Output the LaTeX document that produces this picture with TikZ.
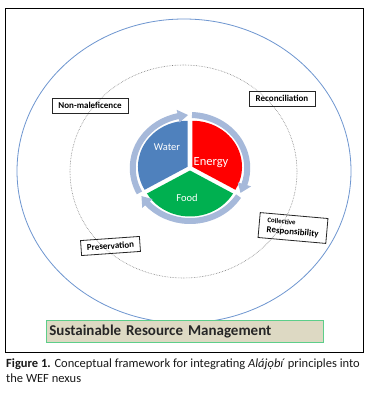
\documentclass[tikz,border=0pt]{standalone}
\usepackage{fontspec}
\setmainfont{Carlito}
\newfontfamily\capfont{Carlito}
\definecolor{waterc}{HTML}{4F81BD}
\definecolor{energyc}{HTML}{FF0000}
\definecolor{foodc}{HTML}{00B050}
\definecolor{ringc}{HTML}{A6B9DA}
\definecolor{outerc}{HTML}{6E96D0}
\definecolor{dotc}{HTML}{7F7F7F}
\definecolor{srmfill}{HTML}{DDD9C3}
\definecolor{srmborder}{HTML}{5DCE8A}
\begin{document}
\begin{tikzpicture}[x=1pt,y=-1pt,
  lbl/.style={draw=black!85, line width=0.8pt, font=\bfseries\fontsize{9}{10}\selectfont, inner sep=2pt, align=center},
  seglbl/.style={text=white, font=\fontsize{10.5}{12}\selectfont, inner sep=0pt},
  captext/.style={anchor=base west, inner sep=0pt, text=black!90, font=\capfont\fontsize{12.5}{14}\selectfont}]
\useasboundingbox (0,0) rectangle (372,396);
\fill[white] (0,0) rectangle (372,396);
% frame
\node[draw=black, line width=1pt, minimum width=358pt, minimum height=344pt, anchor=north west, inner sep=0pt] (frame) at (5,8) {};
% outer ellipse and dotted ring
\draw[outerc, line width=0.8pt] (184,171) ellipse [x radius=167, y radius=152];
\draw[dotc, line width=0.6pt, densely dotted] (183.5,171.5) ellipse [x radius=113.5, y radius=106.5];
% pie
\begin{scope}[shift={(190,168)}, xscale=1.08]
  \fill[waterc, shift={(150:2.5pt)}] (0,0) -- (90:46pt) arc[start angle=90, end angle=210, radius=46pt] -- cycle;
  \fill[energyc, shift={(30:2.5pt)}] (0,0) -- (-30:46pt) arc[start angle=-30, end angle=90, radius=46pt] -- cycle;
  \fill[foodc, shift={(270:2.5pt)}] (0,0) -- (210:46pt) arc[start angle=210, end angle=330, radius=46pt] -- cycle;
  \foreach \s/\t in {208/92, 88/-28, -32/-148} {
    \draw[ringc, line width=6pt] (\s:53pt) arc[start angle=\s, end angle=\t+9, radius=53pt];
    \fill[ringc] (\t+10:46.5pt) -- (\t:53pt) -- (\t+10:59.5pt) -- cycle;
  }
\end{scope}
\node[seglbl] (water) at (167,147) {Water};
\node[seglbl, font=\fontsize{12.5}{14}\selectfont] (energy) at (211,163) {Energy};
\node[seglbl] (food) at (187,198) {Food};
% principle labels
\node[lbl, minimum width=76pt, minimum height=15pt] (nonmal) at (90,105.5) {Non-maleficence};
\node[lbl, minimum width=66pt, minimum height=15pt] (recon) at (282,98.5) {Reconciliation};
\node[lbl, minimum width=68pt, minimum height=25pt, rotate=-5, align=left, inner sep=1.5pt] (collect) at (293,228) {{\fontsize{7}{7.5}\selectfont Collective}\\Responsibility};
\node[lbl, minimum width=59pt, minimum height=15pt, rotate=4] (preserv) at (110.5,246) {Preservation};
% SRM box
\node[draw=srmborder, fill=srmfill, line width=1pt, minimum width=277pt, minimum height=22pt, text width=272pt, align=left, inner sep=0pt, font=\bfseries\fontsize{15}{16}\selectfont, text=black!85] (srm) at (185.35,331.7) {Sustainable Resource Management};
% caption
\node[captext] (cap1) at (6,367.5) {\textbf{Figure 1.} Conceptual framework for integrating \textit{Alájọbí} principles into};
\node[captext] (cap2) at (6,382.5) {the WEF nexus};
\end{tikzpicture}
\end{document}
